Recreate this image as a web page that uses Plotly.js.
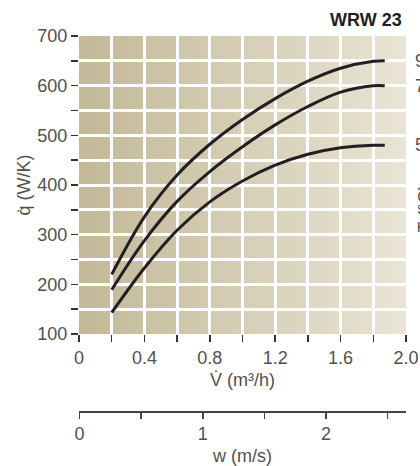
<!DOCTYPE html>
<html><head><meta charset="utf-8">
<script src="https://cdn.plot.ly/plotly-3.0.1.min.js"></script>
<style>body{margin:0;overflow:hidden;background:#fff}</style>
</head><body><div id="chart" style="width:420px;height:466px"></div>
<script>
// Volume flow V̇ (m³/h)
const flowRate = [0.2, 0.4, 0.6, 0.8, 1.0, 1.2, 1.4, 1.6, 1.8, 1.87];
// q̇ (W/K) for the three curves
const qCurve9 = [220, 336, 420, 482, 532, 574, 609, 635, 649, 650];
const qCurve7 = [189, 288, 367, 427, 477, 521, 558, 587, 600, 600];
const qCurve5 = [143, 233, 309, 366, 408, 440, 462, 475, 480, 480];
const curveLabels = ['9', '7', '5'];
// axis ticks
const xTickVals = [0, 0.2, 0.4, 0.6, 0.8, 1.0, 1.2, 1.4, 1.6, 1.8, 2.0];
const xTickText = ['0', '', '0.4', '', '0.8', '', '1.2', '', '1.6', '', '2.0'];
const yTickVals = [100, 150, 200, 250, 300, 350, 400, 450, 500, 550, 600, 650, 700];
const yTickText = ['100', '', '200', '', '300', '', '400', '', '500', '', '600', '', '700'];
const wTickVals = [0, 0.5, 1, 1.5, 2, 2.5];
const wTickText = ['0', '', '1', '', '2', ''];

const FONT = 'Liberation Sans, Arial, sans-serif';
const TXT = '#505050';
const FS = 18;
const series = [qCurve9, qCurve7, qCurve5];

const traces = series.map((ys) => ({
  x: flowRate, y: ys, type: 'scatter', mode: 'lines',
  line: {color: '#231f20', width: 3, shape: 'spline', smoothing: 1},
  hoverinfo: 'skip', showlegend: false, cliponaxis: false
}));
// carrier for the secondary velocity axis (draws no marks)
traces.push({
  x: wTickVals, y: wTickVals.map(() => null), xaxis: 'x2', type: 'scatter',
  mode: 'lines', hoverinfo: 'skip', showlegend: false
});

const grad = "<svg xmlns='http://www.w3.org/2000/svg' width='100' height='10' viewBox='0 0 100 10' preserveAspectRatio='none'>" +
  "<defs><linearGradient id='g' x1='0' y1='0' x2='1' y2='0'><stop offset='0' stop-color='#c3b897'/>" +
  "<stop offset='1' stop-color='#e9e4d5'/></linearGradient></defs><rect width='100' height='10' fill='url(#g)'/></svg>";
const gradUrl = 'data:image/svg+xml;charset=utf-8,' + encodeURIComponent(grad);

const annotations = series.map((ys, i) => ({
  x: 1.021, xref: 'paper', xanchor: 'left',
  y: ys[ys.length - 1], yref: 'y', yanchor: 'middle',
  text: curveLabels[i], showarrow: false,
  font: {family: FONT, size: FS, color: TXT}
}));
annotations.push({
  x: 1.021, xref: 'paper', xanchor: 'left',
  y: 405, yref: 'y', yanchor: 'top',
  text: 'T (°C)', textangle: -90, showarrow: false,
  font: {family: FONT, size: FS, color: TXT}
});
annotations.push({
  x: 1, xref: 'paper', xanchor: 'right', xshift: -2,
  y: 1, yref: 'paper', yanchor: 'bottom', yshift: 4,
  text: '<b>WRW 23</b>', showarrow: false,
  font: {family: FONT, size: 18, color: '#1e1e1e'}
});

const yBottom = (426 - 334) / 390;
const axisCommon = {
  zeroline: false, fixedrange: true,
  ticks: 'outside', ticklen: 7, tickwidth: 1.5, tickcolor: '#333',
  tickfont: {family: FONT, size: FS, color: TXT}
};
const layout = {
  width: 420, height: 466,
  margin: {l: 79, r: 14, t: 36, b: 40},
  paper_bgcolor: '#ffffff', plot_bgcolor: 'rgba(0,0,0,0)',
  font: {family: FONT, size: FS, color: TXT},
  xaxis: Object.assign({}, axisCommon, {
    range: [0, 2], tickvals: xTickVals, ticktext: xTickText,
    showgrid: true, gridcolor: '#ffffff', gridwidth: 3, showline: false,
    title: {text: 'V\u0307 (m\u00b3/h)', font: {family: FONT, size: FS, color: TXT}, standoff: 6}
  }),
  yaxis: Object.assign({}, axisCommon, {
    domain: [yBottom, 1],
    range: [100, 700], tickvals: yTickVals, ticktext: yTickText,
    showgrid: true, gridcolor: '#ffffff', gridwidth: 3, showline: false,
    title: {text: 'q\u0307 (W/K)', font: {family: FONT, size: FS, color: TXT}, standoff: 2}
  }),
  xaxis2: Object.assign({}, axisCommon, {
    overlaying: 'x', anchor: 'free', position: (426 - 411) / 390, side: 'bottom',
    range: [-0.005, 2.65], tickvals: wTickVals, ticktext: wTickText,
    showgrid: false, showline: true, linecolor: '#444', linewidth: 1.5,
    ticklen: 6, tickcolor: '#444',
    title: {text: 'w (m/s)', font: {family: FONT, size: FS, color: TXT}, standoff: 8}
  }),
  images: [{
    source: gradUrl, xref: 'x', yref: 'y', x: 0, y: 700, sizex: 2, sizey: 600,
    xanchor: 'left', yanchor: 'top', sizing: 'stretch', layer: 'below'
  }],
  annotations: annotations
};

Plotly.newPlot('chart', traces, layout, {displayModeBar: false, staticPlot: true});
</script></body></html>
